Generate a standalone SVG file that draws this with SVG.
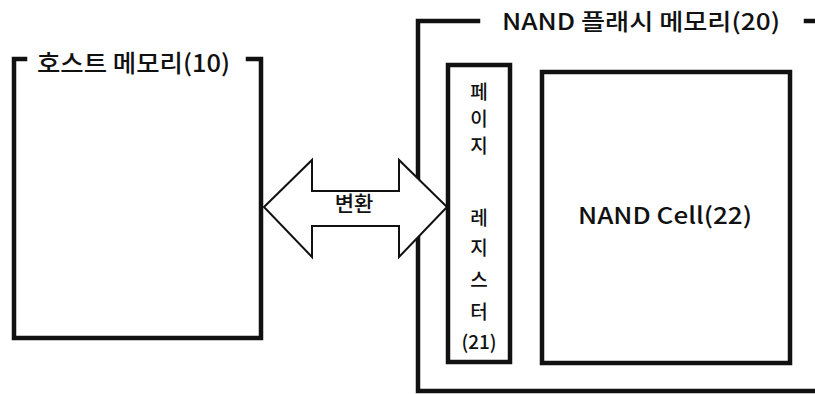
<svg xmlns="http://www.w3.org/2000/svg" width="815" height="394" viewBox="0 0 815 394">
<style>
.ln{fill:none;stroke:#111;stroke-width:4.5;stroke-linecap:square}
.k{font-family:"Noto Sans CJK KR","Liberation Sans",sans-serif;fill:#111;font-weight:500}
</style>
<rect width="815" height="394" fill="#fff"/>
<g id="host">
<path class="ln" d="M25,59 H14 V338 H261 V59 H248"/>
<text class="k" x="37" y="72" font-size="24" textLength="193" lengthAdjust="spacingAndGlyphs">호스트 메모리(10)</text>
</g>
<g id="nand">
<path class="ln" d="M478,21 H418 V391 H815"/>
<path class="ln" d="M806,21 H815"/>
<text class="k" x="502" y="30" font-size="23" textLength="278" lengthAdjust="spacingAndGlyphs">NAND 플래시 메모리(20)</text>
</g>
<g id="page-register">
<rect class="ln" x="448" y="65" width="62" height="297"/>
<g class="k" font-size="19" text-anchor="middle">
<text x="479" y="99">페</text>
<text x="479" y="126">이</text>
<text x="479" y="153">지</text>
<text x="479" y="225">레</text>
<text x="479" y="255">지</text>
<text x="479" y="287">스</text>
<text x="479" y="319">터</text>
<text x="479" y="349">(21)</text>
</g>
</g>
<g id="nand-cell">
<rect class="ln" x="542" y="72" width="248" height="291"/>
<text class="k" x="578" y="224" font-size="23" textLength="174" lengthAdjust="spacingAndGlyphs">NAND Cell(22)</text>
</g>
<g id="connectors">
<path d="M264,207 L312,160 V191 H399 V160 L447,207 L399,257 V226 H312 V257 Z" fill="#fff" stroke="#111" stroke-width="2" stroke-linejoin="miter"/>
<text class="k" x="354" y="211" font-size="21" text-anchor="middle">변환</text>
</g>
</svg>
